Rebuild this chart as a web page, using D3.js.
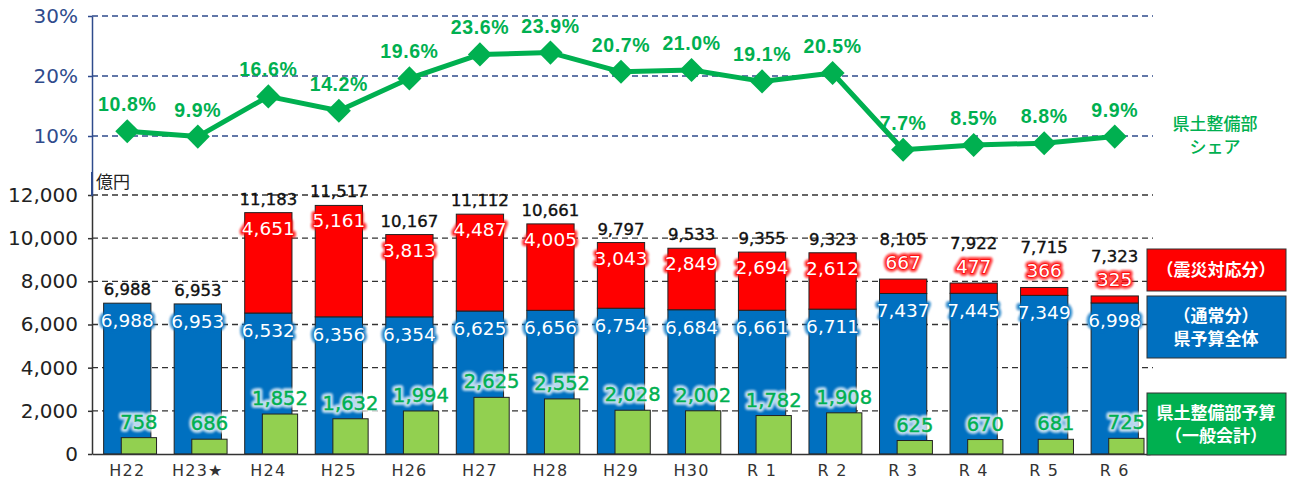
<!DOCTYPE html>
<html>
<head>
<meta charset="utf-8">
<script src="https://cdn.jsdelivr.net/npm/d3@7"></script>
<style>
  body { margin: 0; background: #fff; }
  svg { display: block; }
</style>
</head>
<body>
<svg class="chart" width="1293" height="484"></svg>
<script>
// data
const categories = ["H22", "H23★", "H24", "H25", "H26", "H27", "H28", "H29", "H30", "R 1", "R 2", "R 3", "R 4", "R 5", "R 6"];
const normalBudget = [6988, 6953, 6532, 6356, 6354, 6625, 6656, 6754, 6684, 6661, 6711, 7437, 7445, 7349, 6998];
const disasterBudget = [0, 0, 4651, 5161, 3813, 4487, 4005, 3043, 2849, 2694, 2612, 667, 477, 366, 325];
const totalBudget = [6988, 6953, 11183, 11517, 10167, 11112, 10661, 9797, 9533, 9355, 9323, 8105, 7922, 7715, 7323];
const deptBudget = [758, 686, 1852, 1632, 1994, 2625, 2552, 2028, 2002, 1782, 1908, 625, 670, 681, 725];
const deptShare = [10.8, 9.9, 16.6, 14.2, 19.6, 23.6, 23.9, 20.7, 21.0, 19.1, 20.5, 7.7, 8.5, 8.8, 9.9];
const amountTicks = [0, 2000, 4000, 6000, 8000, 10000, 12000];
const shareTicks = [10, 20, 30];
const legendNames = [["（震災対応分）"], ["（通常分）", "県予算全体"], ["県土整備部予算", "（一般会計）"]];
const shareName = ["県土整備部", "シェア"];

const RED = "#ff0000", BLUE = "#0070c0", GREEN = "#00b050", LIGHT = "#92d050";
const NUM_FONT = "'DejaVu Sans', sans-serif";
const JP_FONT = "'Noto Sans CJK JP', sans-serif";

let svg = d3.select('.chart');
let defs = svg.append('defs');
defs.append('filter').attr('id', 'glow')
  .attr('x', '-20%').attr('y', '-40%').attr('width', '140%').attr('height', '180%')
  .append('feGaussianBlur').attr('stdDeviation', 1.3);

let x = d3.scaleBand().domain(categories).range([92, 1150]);
let bw = x.bandwidth();
let cx = function(c) { return x(c) + bw / 2; };
let yAmt = d3.scaleLinear().domain([0, 12000]).range([454, 195]);
let yShare = d3.scaleLinear().domain([0, 30]).range([196, 16]);

let rows = categories.map(function(c, i) {
  return {
    cat: c, normal: normalBudget[i], disaster: disasterBudget[i],
    total: totalBudget[i], dept: deptBudget[i], share: deptShare[i]
  };
});

// grid lines
svg.append('g').selectAll('line').data(shareTicks).enter().append('line')
  .attr('x1', 92).attr('x2', 1153)
  .attr('y1', function(d) { return yShare(d); }).attr('y2', function(d) { return yShare(d); })
  .attr('stroke', '#2f4b8c').attr('stroke-width', 1.3).attr('stroke-dasharray', '6,4');
svg.append('g').selectAll('line').data(amountTicks.filter(function(d) { return d > 0; })).enter().append('line')
  .attr('x1', 92).attr('x2', 1153)
  .attr('y1', function(d) { return yAmt(d); }).attr('y2', function(d) { return yAmt(d); })
  .attr('stroke', '#333').attr('stroke-width', 1.3).attr('stroke-dasharray', '6,4');

// axes
let shareAxis = svg.append('g').attr('transform', 'translate(92,0)')
  .call(d3.axisLeft(yShare).tickValues(shareTicks).tickFormat(function(d) { return d + '%'; })
    .tickSize(4).tickSizeOuter(0).tickPadding(10));
shareAxis.selectAll('path,line').attr('stroke', '#2f4b8c').attr('stroke-width', 1.5);
shareAxis.selectAll('text').style('font-size', '20px').style('font-family', NUM_FONT).attr('fill', '#2f4b8c');

let amtAxis = svg.append('g').attr('transform', 'translate(92,0)')
  .call(d3.axisLeft(yAmt).tickValues(amountTicks).tickFormat(d3.format(','))
    .tickSize(4).tickSizeOuter(0).tickPadding(10));
amtAxis.selectAll('path,line').attr('stroke', '#333').attr('stroke-width', 1.5);
amtAxis.selectAll('text').style('font-size', '20px').style('font-family', NUM_FONT).attr('fill', '#222');
svg.append('line').attr('x1', 92).attr('x2', 92).attr('y1', 172).attr('y2', 196)
  .attr('stroke', '#2f4b8c').attr('stroke-width', 2);
svg.append('text').text('億円').attr('x', 96).attr('y', 188)
  .style('font-size', '17px').style('font-family', JP_FONT).attr('fill', '#222');

// bars
let bars = svg.append('g');
bars.selectAll('rect.normal').data(rows).enter().append('rect').attr('class', 'normal')
  .attr('x', function(d) { return cx(d.cat) - bw * 0.335; })
  .attr('width', bw * 0.67)
  .attr('y', function(d) { return yAmt(d.normal); })
  .attr('height', function(d) { return yAmt(0) - yAmt(d.normal); })
  .attr('fill', BLUE).attr('stroke', '#222').attr('stroke-width', 1);
bars.selectAll('rect.disaster').data(rows.filter(function(d) { return d.disaster > 0; })).enter().append('rect')
  .attr('class', 'disaster')
  .attr('x', function(d) { return cx(d.cat) - bw * 0.335; })
  .attr('width', bw * 0.67)
  .attr('y', function(d) { return yAmt(d.normal + d.disaster); })
  .attr('height', function(d) { return yAmt(d.normal) - yAmt(d.normal + d.disaster); })
  .attr('fill', RED).attr('stroke', '#222').attr('stroke-width', 1);
bars.selectAll('rect.dept').data(rows).enter().append('rect').attr('class', 'dept')
  .attr('x', function(d) { return cx(d.cat) - bw * 0.085; })
  .attr('width', bw * 0.5)
  .attr('y', function(d) { return yAmt(d.dept); })
  .attr('height', function(d) { return yAmt(0) - yAmt(d.dept); })
  .attr('fill', LIGHT).attr('stroke', '#222').attr('stroke-width', 1);

// x axis
let xAxis = svg.append('g').attr('transform', 'translate(0,454)')
  .call(d3.axisBottom(x).tickSize(0).tickSizeOuter(0).tickPadding(11));
xAxis.select('path').attr('stroke', '#333').attr('stroke-width', 1.5);
xAxis.selectAll('text').style('font-size', '16px').style('font-family', NUM_FONT)
  .style('letter-spacing', '1.2px').attr('fill', '#333');

// labels with halo
let fmt = d3.format(',');
function label(g, px, py, txt, fill, halo, size) {
  if (halo) {
    g.append('text').text(txt).attr('x', px).attr('y', py)
      .style('font-size', size + 'px').style('font-family', NUM_FONT).style('text-anchor', 'middle')
      .attr('fill', halo).attr('stroke', halo).attr('stroke-width', 6).attr('stroke-linejoin', 'round')
      .attr('opacity', 0.75).attr('filter', 'url(#glow)');
  }
  g.append('text').text(txt).attr('x', px).attr('y', py)
    .style('font-size', size + 'px').style('font-family', NUM_FONT).style('text-anchor', 'middle')
    .attr('fill', fill)
    .attr('stroke', halo && fill === '#fff' ? halo : fill).attr('stroke-width', halo && fill === '#fff' ? 1.4 : 0.4)
    .style('paint-order', 'stroke');
}

let labels = svg.append('g');
rows.forEach(function(d) {
  let c = cx(d.cat);
  let top = yAmt(d.normal + d.disaster);
  let small = d.disaster > 0 && d.disaster < 1000;
  // total
  labels.call(label, c, small ? top - 34 : top - 8, fmt(d.total), '#111', null, 16.5);
  // disaster
  if (d.disaster > 0) {
    labels.call(label, c, small ? top - 10 : top + 22, fmt(d.disaster), '#fff', RED, 18.5);
  }
  // normal
  labels.call(label, c, yAmt(d.normal) + 24, fmt(d.normal), '#fff', BLUE, 18.5);
  // dept
  labels.call(label, c + bw * 0.165, yAmt(d.dept) - 9, fmt(d.dept), GREEN, '#fff', 19.5);
});

// share line
let line = d3.line().x(function(d) { return cx(d.cat); }).y(function(d) { return yShare(d.share); });
svg.append('path').datum(rows).attr('d', line)
  .attr('fill', 'none').attr('stroke', GREEN).attr('stroke-width', 5).attr('stroke-linejoin', 'round');
svg.append('g').selectAll('path').data(rows).enter().append('path')
  .attr('d', d3.symbol().type(d3.symbolSquare).size(290))
  .attr('transform', function(d) { return 'translate(' + cx(d.cat) + ',' + yShare(d.share) + ') rotate(45)'; })
  .attr('fill', GREEN);
svg.append('g').selectAll('text').data(rows).enter().append('text')
  .text(function(d) { return d.share.toFixed(1) + '%'; })
  .attr('x', function(d) { return cx(d.cat); })
  .attr('y', function(d) { return yShare(d.share) - 20; })
  .style('font-size', '19.5px').style('font-weight', 'bold').style('font-family', "'Liberation Sans', Arial, sans-serif")
  .style('text-anchor', 'middle').style('letter-spacing', '0.6px')
  .attr('fill', GREEN);

// share legend text
svg.append('g').selectAll('text').data(shareName).enter().append('text')
  .text(function(d) { return d; })
  .attr('x', 1215).attr('y', function(d, i) { return 130 + i * 23; })
  .style('font-size', '17px').style('font-family', JP_FONT).style('font-weight', 500)
  .style('text-anchor', 'middle').attr('fill', GREEN);

// legend boxes
let boxes = [
  { fill: RED, y0: 249, y1: 291 },
  { fill: BLUE, y0: 296, y1: 358 },
  { fill: GREEN, y0: 393, y1: 455 }
];
let lg = svg.append('g').selectAll('g').data(boxes).enter().append('g');
lg.append('rect')
  .attr('x', 1147).attr('width', 139)
  .attr('y', function(d) { return d.y0; })
  .attr('height', function(d) { return d.y1 - d.y0; })
  .attr('fill', function(d) { return d.fill; })
  .attr('stroke', '#333').attr('stroke-width', 1);
lg.each(function(d, i) {
  let names = legendNames[i];
  let mid = (d.y0 + d.y1) / 2;
  d3.select(this).selectAll('text').data(names).enter().append('text')
    .text(function(t) { return t; })
    .attr('x', 1216)
    .attr('y', function(t, j) { return mid + 6 + (j - (names.length - 1) / 2) * 23; })
    .style('font-size', '17px').style('font-family', JP_FONT).style('font-weight', 'bold')
    .style('text-anchor', 'middle').attr('fill', '#fff');
});
</script>
</body>
</html>
